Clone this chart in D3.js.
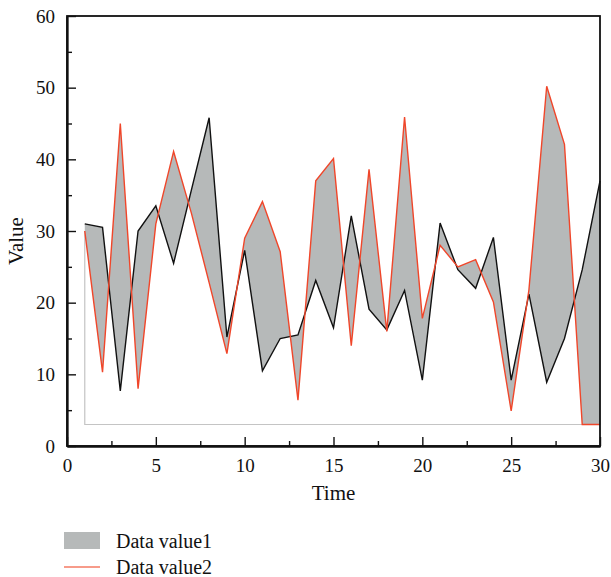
<!DOCTYPE html>
<html>
<head>
<meta charset="utf-8">
<script src="https://cdn.jsdelivr.net/npm/d3@7"></script>
<style>
  body { margin: 0; background: #fff; }
  svg { display: block; }
  text { font-family: "Liberation Serif", "Times New Roman", serif; fill: #111; }
</style>
</head>
<body>
<svg id="chart" width="611" height="577"></svg>
<script>
const time = d3.range(1, 31);
const value1 = [31.0, 30.5, 7.7, 30.0, 33.5, 25.5, 35.7, 45.8, 15.2, 27.3,
                10.5, 15.0, 15.5, 23.1, 16.5, 32.1, 19.1, 16.2, 21.7, 9.2,
                31.1, 24.6, 22.0, 29.1, 9.2, 21.2, 8.9, 15.0, 24.6, 37.0];
const value2 = [30.0, 10.3, 45.0, 8.0, 31.0, 41.1, 32.5, 22.8, 12.9, 29.0,
                34.1, 27.1, 6.4, 37.0, 40.1, 14.0, 38.6, 16.0, 45.9, 17.8,
                28.0, 25.0, 26.0, 20.1, 4.9, 21.8, 50.2, 42.1, 3.0, 3.0];
const xTicks = [0, 5, 10, 15, 20, 25, 30];
const yTicks = [0, 10, 20, 30, 40, 50, 60];
const seriesNames = ["Data value1", "Data value2"];

const svg = d3.select("#chart");
const m = { left: 67, right: 600, top: 16, bottom: 446 };
const x = d3.scaleLinear().domain([0, 30]).range([m.left, m.right]);
const y = d3.scaleLinear().domain([0, 60]).range([m.bottom, m.top]);

const data = time.map((t, i) => ({ t, a: value1[i], b: value2[i] }));

// fill between series
const area = d3.area()
  .x(d => x(d.t))
  .y0(d => y(d.a))
  .y1(d => y(d.b));
svg.append("path").datum(data)
  .attr("d", area)
  .attr("fill", "#b6b9b9")
  .attr("stroke", "none");

// thin outline of fill base
const base = d3.min(value2);
const outline = [
  [time[0], value2[0]], [time[0], base],
  [time[time.length - 1], base], [time[time.length - 1], value1[value1.length - 1]]
];
svg.append("path")
  .attr("d", d3.line().x(d => x(d[0])).y(d => y(d[1]))(outline))
  .attr("fill", "none")
  .attr("stroke", "#c4c4c4")
  .attr("stroke-width", 1.2);

// lines
const line = key => d3.line().x(d => x(d.t)).y(d => y(d[key]));
svg.append("path").datum(data)
  .attr("d", line("a"))
  .attr("fill", "none").attr("stroke", "#111").attr("stroke-width", 1.4)
  .attr("stroke-linejoin", "miter");
svg.append("path").datum(data)
  .attr("d", line("b"))
  .attr("fill", "none").attr("stroke", "#f0462a").attr("stroke-width", 1.4)
  .attr("stroke-linejoin", "miter");

// frame
svg.append("rect")
  .attr("x", m.left).attr("y", m.top)
  .attr("width", m.right - m.left).attr("height", m.bottom - m.top)
  .attr("fill", "none").attr("stroke", "#111").attr("stroke-width", 1.8);

// axes (ticks inward)
const xMajor = d3.axisBottom(x).tickValues(xTicks).tickSizeInner(-9).tickSizeOuter(0).tickPadding(13).tickFormat(d3.format("d"));
const gx = svg.append("g").attr("transform", `translate(0,${m.bottom})`).call(xMajor);
const xMinor = d3.axisBottom(x).tickValues(d3.range(2.5, 30, 5)).tickSizeInner(-5).tickSizeOuter(0).tickFormat("");
const gxm = svg.append("g").attr("transform", `translate(0,${m.bottom})`).call(xMinor);

const yMajor = d3.axisLeft(y).tickValues(yTicks).tickSizeInner(-9).tickSizeOuter(0).tickPadding(12).tickFormat(d3.format("d"));
const gy = svg.append("g").attr("transform", `translate(${m.left},0)`).call(yMajor);
const yMinor = d3.axisLeft(y).tickValues(d3.range(5, 60, 10)).tickSizeInner(-5).tickSizeOuter(0).tickFormat("");
const gym = svg.append("g").attr("transform", `translate(${m.left},0)`).call(yMinor);

[gx, gxm, gy, gym].forEach(g => {
  g.select(".domain").attr("stroke", "#111").attr("stroke-width", 1.8);
  g.selectAll(".tick line").attr("stroke", "#111").attr("stroke-width", 1.4);
  g.selectAll(".tick text").attr("font-size", 19).attr("font-family", "Liberation Serif, serif").attr("fill", "#111");
});
gx.selectAll(".tick text").attr("dy", "0.71em");

// axis titles
svg.append("text").attr("x", (m.left + m.right) / 2).attr("y", 500)
  .attr("text-anchor", "middle").attr("font-size", 21).text("Time");
svg.append("text").attr("transform", `translate(23,${(m.top + m.bottom) / 2 + 10}) rotate(-90)`)
  .attr("text-anchor", "middle").attr("font-size", 21).text("Value");

// legend
svg.append("rect").attr("x", 64).attr("y", 532).attr("width", 36).attr("height", 17).attr("fill", "#b6b9b9");
svg.append("line").attr("x1", 64).attr("x2", 100).attr("y1", 567).attr("y2", 567)
  .attr("stroke", "#f47a63").attr("stroke-width", 1.4);
svg.append("text").attr("x", 116).attr("y", 548).attr("font-size", 20).text(seriesNames[0]);
svg.append("text").attr("x", 116).attr("y", 574).attr("font-size", 20).text(seriesNames[1]);
</script>
</body>
</html>
